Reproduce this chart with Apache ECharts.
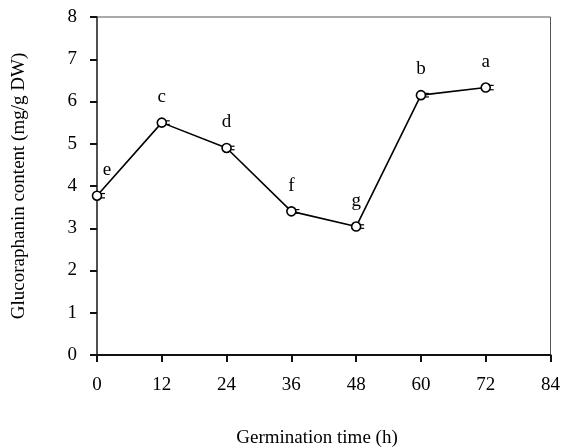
<!DOCTYPE html>
<html><head><meta charset="utf-8">
<script src="https://cdn.jsdelivr.net/npm/echarts@6/dist/echarts.min.js"></script>
<style>html,body{margin:0;padding:0;background:#fff}#c{width:563px;height:448px}</style>
</head><body><div id="c"></div>
<script>
const hours = [0, 12, 24, 36, 48, 60, 72];
const content = [3.77, 5.50, 4.90, 3.40, 3.04, 6.15, 6.33];
const errors = [0.04, 0.03, 0.03, 0.03, 0.03, 0.03, 0.04];
const letters = ['e', 'c', 'd', 'f', 'g', 'b', 'a'];
const xTicks = [0, 12, 24, 36, 48, 60, 72, 84];
const yTicks = [0, 1, 2, 3, 4, 5, 6, 7, 8];

const font = 'Liberation Serif';
const chart = echarts.init(document.getElementById('c'));
chart.setOption({
  animation: false,
  backgroundColor: '#fff',
  grid: {left: 97, right: 11, top: 17, bottom: 93, show: true, borderColor: '#555', borderWidth: 1},
  xAxis: {
    type: 'value', min: 0, max: 84, interval: 12,
    axisLine: {onZero: false, lineStyle: {color: '#111', width: 2}},
    axisTick: {show: true, inside: false, length: 7, lineStyle: {color: '#111', width: 2}},
    axisLabel: {color: '#000', fontFamily: font, fontSize: 19, margin: 21,
      formatter: v => xTicks.includes(v) ? String(v) : ''},
    splitLine: {show: false}
  },
  yAxis: {
    type: 'value', min: 0, max: 8, interval: 1,
    axisLine: {show: true, lineStyle: {color: '#333', width: 1.5}},
    axisTick: {show: true, inside: false, length: 7, lineStyle: {color: '#111', width: 2}},
    axisLabel: {color: '#000', fontFamily: font, fontSize: 19, margin: 20,
      formatter: v => yTicks.includes(v) ? String(v) : ''},
    splitLine: {show: false}
  },
  graphic: [
    {type: 'text', x: 317, y: 438, style: {text: 'Germination time (h)', font: '19px "Liberation Serif"', fill: '#000', textAlign: 'center', textVerticalAlign: 'middle'}},
    {type: 'text', x: 19, y: 186, rotation: Math.PI / 2, style: {text: 'Glucoraphanin content (mg/g DW)', font: '19px "Liberation Serif"', fill: '#000', textAlign: 'center', textVerticalAlign: 'middle'}}
  ],
  series: [
    {
      type: 'custom', z: 1,
      data: hours.map((h, i) => [h, content[i], errors[i]]),
      renderItem: (params, api) => {
        const x = api.value(0), y = api.value(1), e = api.value(2);
        const p1 = api.coord([x, y + e]);
        const p2 = api.coord([x, y - e]);
        const st = {stroke: '#000', lineWidth: 1.2};
        return {type: 'group', children: [
          {type: 'line', shape: {x1: p1[0], y1: p1[1] - 0.5, x2: p1[0] + 8, y2: p1[1] - 0.5}, style: st},
          {type: 'line', shape: {x1: p2[0], y1: p2[1] + 0.5, x2: p2[0] + 8, y2: p2[1] + 0.5}, style: st}
        ]};
      }
    },
    {
      type: 'line', z: 3,
      data: hours.map((h, i) => ({
        value: [h, content[i]],
        label: {show: true, formatter: letters[i], offset: i === 0 ? [10, 0] : [0, 0]}
      })),
      symbol: 'circle', symbolSize: 9,
      lineStyle: {color: '#000', width: 1.6},
      itemStyle: {color: '#fff', borderColor: '#000', borderWidth: 1.6},
      label: {position: 'top', distance: 11, color: '#000', fontFamily: font, fontSize: 19}
    }
  ]
});
</script>
</body></html>
